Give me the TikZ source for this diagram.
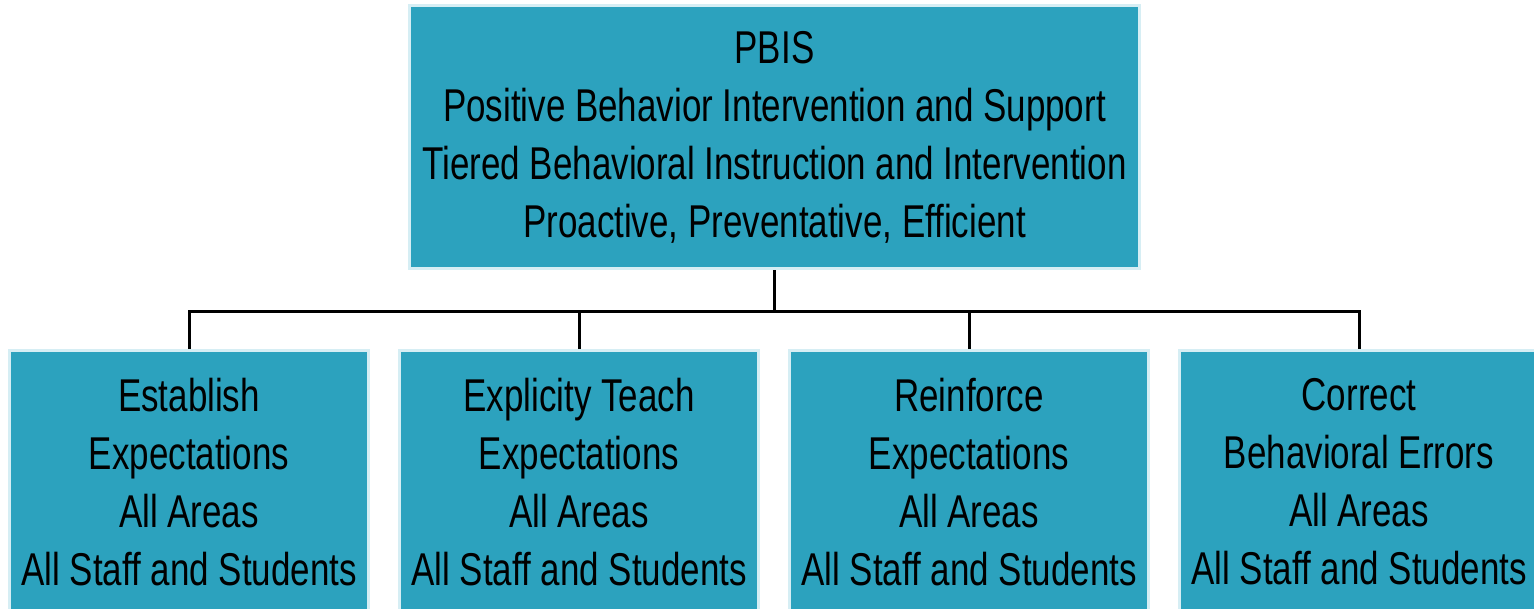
\documentclass[tikz,border=0pt]{standalone}
\usepackage{fontspec}
\setmainfont[FakeStretch=0.76]{Liberation Sans}
\definecolor{boxfill}{RGB}{44,162,190}
\definecolor{boxedge}{RGB}{214,238,244}
\begin{document}
\begin{tikzpicture}[x=1pt,y=-1pt,
  tealbox/.style={rectangle, fill=boxfill, draw=boxedge, line width=3pt,
    inner sep=0pt, align=center, text=black,
    font=\fontsize{46}{58}\selectfont},
  topbox/.style={tealbox, minimum width=730pt, minimum height=263pt},
  subbox/.style={tealbox, minimum width=359pt, minimum height=263pt},
  link/.style={draw=black, line width=3pt}]
\useasboundingbox (0,0) rectangle (1534,608);
\clip (0,0) rectangle (1534,608);

\node[topbox] (pbis) at (774.5,137)
  {PBIS\\Positive Behavior Intervention and Support\\Tiered Behavioral Instruction and Intervention\\Proactive, Preventative, Efficient};

\node[subbox] (establish) at (189,482)
  {Establish\\Expectations\\All Areas\\All Staff and Students};
\node[subbox] (teach) at (579,482)
  {Explicity Teach\\Expectations\\All Areas\\All Staff and Students};
\node[subbox] (reinforce) at (969,482)
  {Reinforce\\Expectations\\All Areas\\All Staff and Students};
\node[subbox] (correct) at (1359,482)
  {Correct\\Behavioral Errors\\All Areas\\All Staff and Students};

% tree connectors through a horizontal bus
\coordinate (bus) at (774.5,311);
\draw[link] (pbis.south) -- (bus);
\foreach \n in {establish,teach,reinforce,correct}
  \draw[link] (\n.north) |- (bus);
\end{tikzpicture}
\end{document}
